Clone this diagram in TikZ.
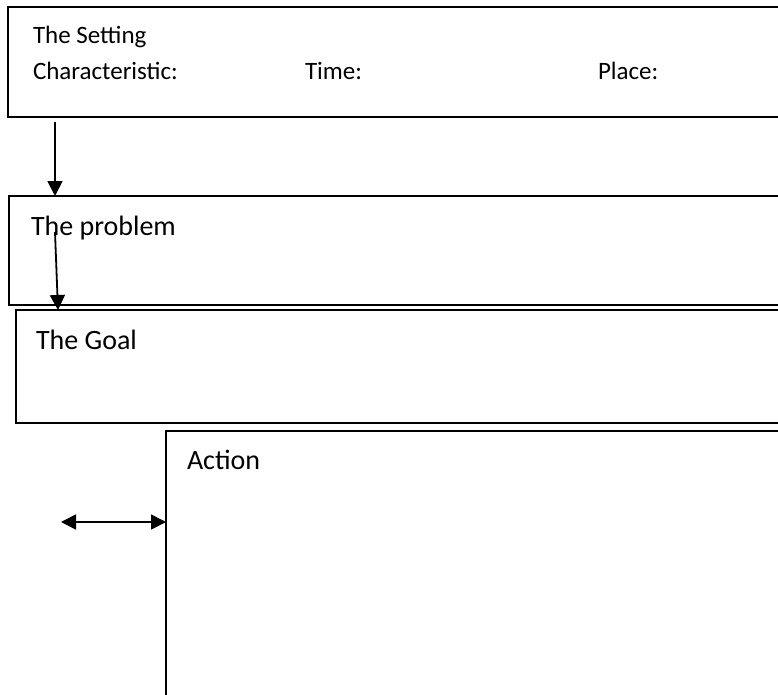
\documentclass[tikz,border=0pt]{standalone}
\usepackage{fontspec}
\setmainfont{Carlito}
\usetikzlibrary{arrows.meta,calc}

\tikzset{
  panel/.style={draw=black, line width=1.8pt, inner sep=0pt, outer sep=0pt,
                anchor=north west, rectangle},
  label/.style={anchor=base west, inner sep=0pt, outer sep=0pt, text=black},
  small/.style={label, font=\fontsize{25}{30}\selectfont},
  big/.style={label, font=\fontsize{28}{33}\selectfont},
  tip/.style={Triangle[length=15pt,width=15pt]},
  link/.style={line width=1.8pt, -{Triangle[length=15pt,width=15pt]}},
  twoway/.style={line width=1.8pt, {Triangle[length=15pt,width=15pt]}-{Triangle[length=15pt,width=15pt]}}
}

\begin{document}
\begin{tikzpicture}[x=1pt,y=-1pt]
  \clip (0,0) rectangle (778,695);
  \fill[white] (0,0) rectangle (778,695);

  % panels, running off the right edge
  \node[panel, minimum width=790pt, minimum height=110pt] (setting) at (8,7) {};
  \node[panel, minimum width=790pt, minimum height=109pt] (problem) at (9,196) {};
  \node[panel, minimum width=790pt, minimum height=113pt] (goal) at (16,310) {};
  \node[panel, minimum width=620pt, minimum height=280pt] (action) at (166,431) {};

  % panel texts
  \node[small] (tset) at (33,44) {The Setting};
  \node[small] (tchar) at (33,80) {Characteristic:};
  \node[small] (ttime) at (305,80) {Time:};
  \node[small] (tplace) at (598,80) {Place:};
  \node[big] (tprob) at (31,235) {The problem};
  \node[big] (tgoal) at (36,349) {The Goal};
  \node[big] (tact) at (187,469) {Action};

  % connectors
  \coordinate (s1) at (55,122);
  \draw[link] (s1) -- (s1 |- problem.north);
  \coordinate (s2) at (55,232);
  \coordinate (e2) at (58,310);
  \draw[link] (s2) -- (e2 |- goal.north);
  \coordinate (s3) at (61,522);
  \draw[twoway] (s3) -- (s3 -| action.west);
\end{tikzpicture}
\end{document}
